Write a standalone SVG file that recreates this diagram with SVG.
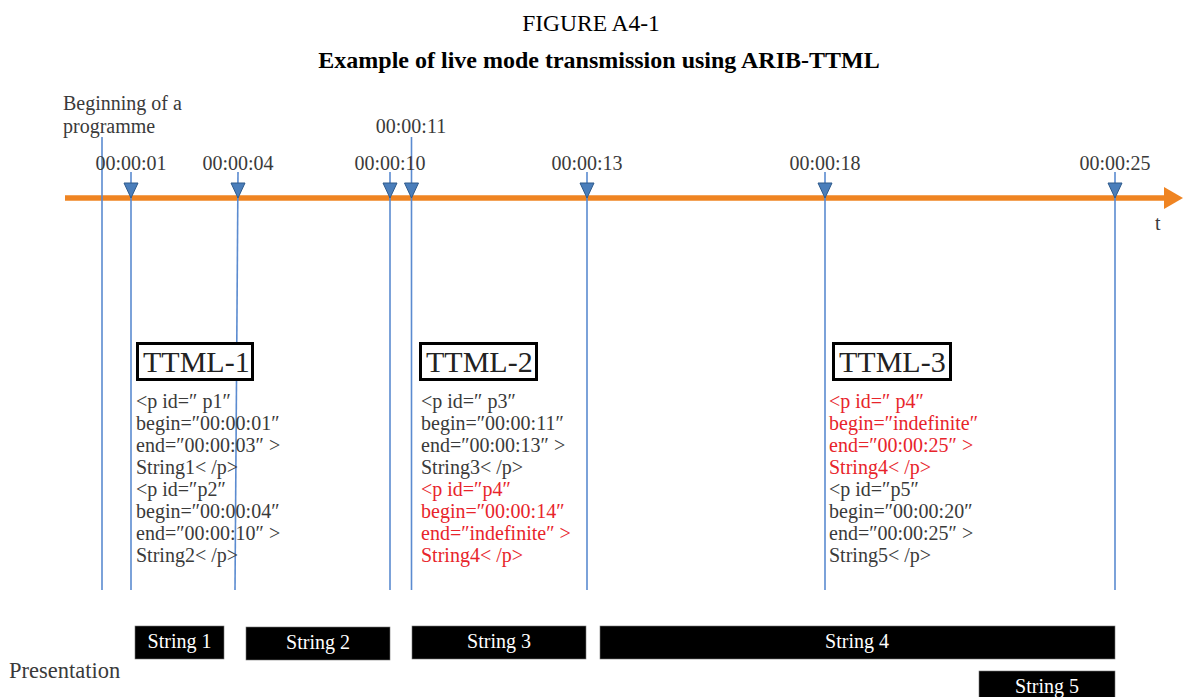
<svg xmlns="http://www.w3.org/2000/svg" width="1183" height="697" viewBox="0 0 1183 697">
<style>
text{font-family:"Liberation Serif","Times New Roman",serif;fill:#3a3a3a}
.title{font-size:23.5px;fill:#000;text-anchor:middle}
.sub{font-size:24px;font-weight:bold;fill:#000;text-anchor:middle}
.time{font-size:20px;text-anchor:middle}
.code{font-size:20px}
.red{fill:#e8242b}
.box{fill:#fff;stroke:#000;stroke-width:3}
.boxt{font-size:30px;fill:#222}
.vl{stroke:#5b8bd0;stroke-width:1.6;fill:none}
.tri{fill:#4a7ebb;stroke:#2e5a8c;stroke-width:1}
.bar{fill:#000;stroke:#777;stroke-width:0.6}
.bart{font-size:20px;fill:#fff;text-anchor:middle}
</style>
<defs>
<path id="tri" d="M-7,0 L7,0 L0,15 Z"/>
</defs>
<rect x="0" y="0" width="1183" height="697" fill="#fff"/>
<text class="title" x="591" y="31">FIGURE A4-1</text>
<text class="sub" x="599" y="68">Example of live mode transmission using ARIB-TTML</text>

<g id="timeline">
<line x1="65" y1="198" x2="1166" y2="198" stroke="#ef8422" stroke-width="5.5"/>
<polygon points="1164,187 1183,198 1164,209" fill="#ef8422"/>
<text x="1155" y="230" style="font-size:20px">t</text>
</g>

<g id="connectors">
<line class="vl" x1="102" y1="137" x2="102" y2="590"/>
<line class="vl" x1="131" y1="172" x2="131" y2="590"/>
<line class="vl" x1="238" y1="172" x2="235" y2="590"/>
<line class="vl" x1="390" y1="172" x2="390" y2="590"/>
<line class="vl" x1="411.5" y1="137" x2="411.5" y2="590"/>
<line class="vl" x1="587" y1="172" x2="587" y2="590"/>
<line class="vl" x1="825" y1="172" x2="825" y2="590"/>
<line class="vl" x1="1115" y1="172" x2="1115" y2="590"/>
<use href="#tri" class="tri" x="131" y="183"/>
<use href="#tri" class="tri" x="238" y="183"/>
<use href="#tri" class="tri" x="390" y="183"/>
<use href="#tri" class="tri" x="411.5" y="183"/>
<use href="#tri" class="tri" x="587" y="183"/>
<use href="#tri" class="tri" x="825" y="183"/>
<use href="#tri" class="tri" x="1115" y="183"/>
</g>

<g id="labels">
<text x="63" y="110" style="font-size:20px">Beginning of a</text>
<text x="63" y="133" style="font-size:20px">programme</text>
<text class="time" x="131" y="170">00:00:01</text>
<text class="time" x="238" y="170">00:00:04</text>
<text class="time" x="390" y="170">00:00:10</text>
<text class="time" x="411" y="133">00:00:11</text>
<text class="time" x="587" y="170">00:00:13</text>
<text class="time" x="825" y="170">00:00:18</text>
<text class="time" x="1115" y="170">00:00:25</text>
</g>

<g id="ttml1">
<rect class="box" x="137.5" y="343.5" width="115" height="36"/>
<text class="boxt" x="143" y="372">TTML-1</text>
<text class="code" x="136" y="408">&lt;p id=″ p1″</text>
<text class="code" x="136" y="430">begin=″00:00:01″</text>
<text class="code" x="136" y="452">end=″00:00:03″ &gt;</text>
<text class="code" x="136" y="474">String1&lt; /p&gt;</text>
<text class="code" x="136" y="496">&lt;p id=″p2″</text>
<text class="code" x="136" y="518">begin=″00:00:04″</text>
<text class="code" x="136" y="540">end=″00:00:10″ &gt;</text>
<text class="code" x="136" y="562">String2&lt; /p&gt;</text>
</g>

<g id="ttml2">
<rect class="box" x="420.5" y="343.5" width="116" height="36"/>
<text class="boxt" x="426" y="372">TTML-2</text>
<text class="code" x="421" y="408">&lt;p id=″ p3″</text>
<text class="code" x="421" y="430">begin=″00:00:11″</text>
<text class="code" x="421" y="452">end=″00:00:13″ &gt;</text>
<text class="code" x="421" y="474">String3&lt; /p&gt;</text>
<text class="code red" x="421" y="496">&lt;p id=″p4″</text>
<text class="code red" x="421" y="518">begin=″00:00:14″</text>
<text class="code red" x="421" y="540">end=″indefinite″ &gt;</text>
<text class="code red" x="421" y="562">String4&lt; /p&gt;</text>
</g>

<g id="ttml3">
<rect class="box" x="833.5" y="343.5" width="117" height="36"/>
<text class="boxt" x="839" y="372">TTML-3</text>
<text class="code red" x="829" y="408">&lt;p id=″ p4″</text>
<text class="code red" x="829" y="430">begin=″indefinite″</text>
<text class="code red" x="829" y="452">end=″00:00:25″ &gt;</text>
<text class="code red" x="829" y="474">String4&lt; /p&gt;</text>
<text class="code" x="829" y="496">&lt;p id=″p5″</text>
<text class="code" x="829" y="518">begin=″00:00:20″</text>
<text class="code" x="829" y="540">end=″00:00:25″ &gt;</text>
<text class="code" x="829" y="562">String5&lt; /p&gt;</text>
</g>

<g id="presentation">
<text x="9" y="678" style="font-size:22.5px">Presentation</text>
<g id="s1"><rect class="bar" x="135" y="626" width="89" height="33"/><text class="bart" x="179.5" y="648">String 1</text></g>
<g id="s2"><rect class="bar" x="246" y="627" width="144" height="33"/><text class="bart" x="318" y="649">String 2</text></g>
<g id="s3"><rect class="bar" x="412" y="626" width="174" height="33"/><text class="bart" x="499" y="648">String 3</text></g>
<g id="s4"><rect class="bar" x="600" y="626" width="515" height="33"/><text class="bart" x="857" y="648">String 4</text></g>
<g id="s5"><rect class="bar" x="979" y="671" width="136" height="30"/><text class="bart" x="1047" y="693">String 5</text></g>
</g>
</svg>
